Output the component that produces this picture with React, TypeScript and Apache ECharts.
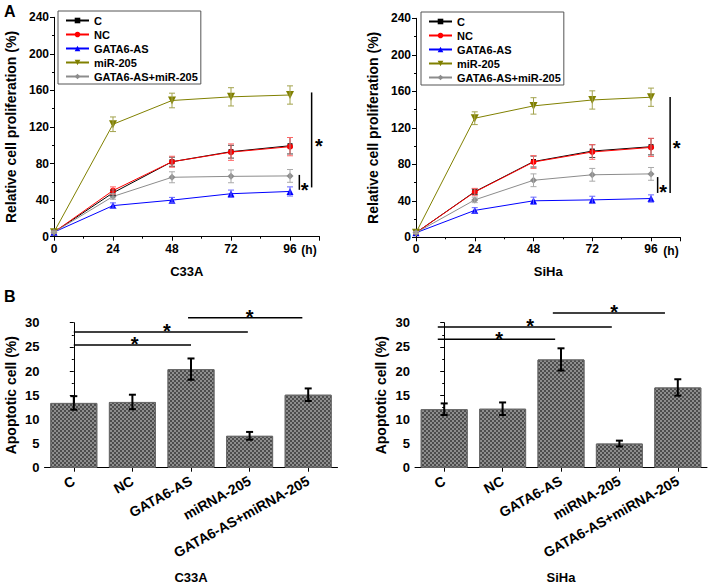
import React, { useEffect, useRef } from 'react';
import * as echarts from 'echarts';

// ---------- data ----------
const hours = [0, 24, 48, 72, 96];
const groupNames = ['C', 'NC', 'GATA6-AS', 'miR-205', 'GATA6-AS+miR-205'];
const groupColors = ['#000000', '#ff0000', '#0000ff', '#808000', '#8c8c8c'];
const errColors = ['#444444', '#ff6666', '#6666ff', '#a3a34d', '#aaaaaa'];

// C33A proliferation (%)
const c33aC = [5, 48, 82, 93, 99.5];
const c33aNC = [5, 50.5, 82, 92.5, 98.5];
const c33aGATA = [5, 34, 40, 47, 49.5];
const c33aMiR = [5, 123, 149, 153, 155];
const c33aCombo = [5, 44, 65, 66, 66.5];
const c33aErrC = [1, 3, 5, 7, 9];
const c33aErrNC = [1, 4, 6, 9, 10];
const c33aErrGATA = [1, 3, 3, 4, 5];
const c33aErrMiR = [1, 8, 8, 10, 10];
const c33aErrCombo = [1, 3, 6, 7, 7];

// SiHa proliferation (%)
const sihaC = [5, 50, 83, 94.5, 99.3];
const sihaNC = [5, 49.6, 82.5, 93.5, 98.5];
const sihaGATA = [5, 29.5, 40, 41, 42.5];
const sihaMiR = [5, 130.5, 144, 150.5, 153.5];
const sihaCombo = [5, 41, 62.5, 68.5, 69.5];
const sihaErrC = [1, 3, 6, 7, 9];
const sihaErrNC = [1, 4, 7, 8, 10];
const sihaErrGATA = [1, 3, 4, 4, 4];
const sihaErrMiR = [1, 7, 9, 10, 10];
const sihaErrCombo = [1, 3, 7, 7, 7];

// Apoptosis (%)
const barCats = ['C', 'NC', 'GATA6-AS', 'miRNA-205', 'GATA6-AS+miRNA-205'];
const c33aApop = [13.4, 13.6, 20.4, 6.6, 15.1];
const c33aApopErr = [1.4, 1.5, 2.2, 0.8, 1.3];
const sihaApop = [12.1, 12.2, 22.4, 5.0, 16.6];
const sihaApopErr = [1.2, 1.3, 2.3, 0.6, 1.7];

// significance markers [x1, y1, x2, y2] and stars [x, y]
const c33aLineSig = [[104.8, 157.8, 104.8, 53.9], [99.8, 67.6, 99.8, 51.3]];
const c33aLineStars = [[107.8, 105], [102, 56.7]];
const sihaLineSig = [[103.8, 153.8, 103.8, 48.6], [98.7, 66, 98.7, 48.6]];
const sihaLineStars = [[106.5, 102.7], [101, 54.5]];
// bar-panel positions use the category index as x
const c33aBarSig = [[0, 25.4, 2.0, 25.4], [0, 28.1, 2.97, 28.1], [1.95, 31.0, 3.9, 31.0]];
const c33aBarStars = [[1.04, 26.6], [1.59, 29.3], [3.0, 32.1]];
const sihaBarSig = [[-0.11, 26.6, 1.9, 26.6], [-0.11, 29.1, 2.87, 29.1], [1.86, 32.0, 3.78, 32.0]];
const sihaBarStars = [[0.94, 27.6], [1.47, 30.4], [2.91, 33.2]];

// ---------- helpers ----------
const FONT = 'Liberation Sans, Arial, Helvetica, sans-serif';
const txt = { fontFamily: FONT, fontWeight: 'bold' as const, color: '#000' };

const symbols = [
  { symbol: 'rect', size: 5 },
  { symbol: 'circle', size: 6 },
  { symbol: 'triangle', size: 7 },
  { symbol: 'path://M0,0 L10,0 L5,9 Z', size: 8 },
  { symbol: 'diamond', size: 7 },
];

function lineSeries(idx: number, values: number[], axis: number) {
  return {
    type: 'line',
    name: groupNames[idx],
    xAxisIndex: axis,
    yAxisIndex: axis,
    data: hours.map((h, i) => [h, values[i]]),
    symbol: symbols[idx].symbol,
    symbolSize: symbols[idx].size,
    showSymbol: true,
    lineStyle: { color: groupColors[idx], width: 1 },
    itemStyle: { color: groupColors[idx] },
    z: 3,
  };
}

function errSeries(xs: number[], values: number[], errs: number[], xAxis: number, yAxis: number, color: string, cap: number, width: number) {
  return {
    type: 'custom',
    name: 'err',
    xAxisIndex: xAxis,
    yAxisIndex: yAxis,
    data: xs.map((x, i) => [x, values[i] - errs[i], values[i] + errs[i]]),
    encode: { x: 0, y: [1, 2] },
    z: 4,
    renderItem: (params: any, api: any) => {
      const x = api.value(0);
      const top = api.coord([x, api.value(2)]);
      const bot = api.coord([x, api.value(1)]);
      const st = { stroke: color, lineWidth: width };
      return {
        type: 'group',
        children: [
          { type: 'line', shape: { x1: top[0], y1: top[1], x2: bot[0], y2: bot[1] }, style: st },
          { type: 'line', shape: { x1: top[0] - cap, y1: top[1], x2: top[0] + cap, y2: top[1] }, style: st },
          { type: 'line', shape: { x1: bot[0] - cap, y1: bot[1], x2: bot[0] + cap, y2: bot[1] }, style: st },
        ],
      };
    },
  };
}

function sigSeries(rows: number[][], xAxis: number, yAxis: number, width: number) {
  return {
    type: 'custom',
    name: 'sig',
    xAxisIndex: xAxis,
    yAxisIndex: yAxis,
    data: rows,
    encode: { x: [0, 2], y: [1, 3] },
    z: 5,
    renderItem: (params: any, api: any) => {
      const a = api.coord([api.value(0), api.value(1)]);
      const b = api.coord([api.value(2), api.value(3)]);
      return { type: 'line', shape: { x1: a[0], y1: a[1], x2: b[0], y2: b[1] }, style: { stroke: '#000', lineWidth: width } };
    },
  };
}

function starSeries(rows: number[][], xAxis: number, yAxis: number, size: number) {
  return {
    type: 'custom',
    name: 'star',
    xAxisIndex: xAxis,
    yAxisIndex: yAxis,
    data: rows,
    encode: { x: 0, y: 1 },
    z: 5,
    renderItem: (params: any, api: any) => {
      const p = api.coord([api.value(0), api.value(1)]);
      return {
        type: 'text',
        x: p[0],
        y: p[1] + size * 0.24,
        style: {
          text: '*', fontSize: size, fontWeight: 'bold', fontFamily: FONT, fill: '#000',
          align: 'center', verticalAlign: 'middle', textAlign: 'center', textVerticalAlign: 'middle',
        },
      };
    },
  };
}

function lineXAxis(grid: number, name: string) {
  return {
    type: 'value', gridIndex: grid, min: 0, max: 108, interval: 24,
    axisLine: { show: true, lineStyle: { color: '#000', width: 1 } },
    axisTick: { show: true, length: 4, lineStyle: { color: '#000' } },
    minorTick: { show: true, splitNumber: 2, length: 2, lineStyle: { color: '#000' } },
    splitLine: { show: false },
    axisLabel: { ...txt, fontSize: 12, margin: 6, formatter: (v: number) => (v > 96 ? '' : String(v)) },
    name, nameLocation: 'middle', nameGap: 28, nameTextStyle: { ...txt, fontSize: 13 },
  };
}

function lineYAxis(grid: number) {
  return {
    type: 'value', gridIndex: grid, min: 0, max: 240, interval: 40,
    axisLine: { show: true, lineStyle: { color: '#000', width: 1 } },
    axisTick: { show: true, length: 4, lineStyle: { color: '#000' } },
    minorTick: { show: true, splitNumber: 2, length: 2, lineStyle: { color: '#000' } },
    splitLine: { show: false },
    axisLabel: { ...txt, fontSize: 12, margin: 5 },
    name: 'Relative cell proliferation (%)', nameLocation: 'middle', nameGap: 36, nameRotate: 90,
    nameTextStyle: { ...txt, fontSize: 14 },
  };
}

function barXAxis(grid: number, name: string) {
  return {
    type: 'category', gridIndex: grid, data: barCats,
    axisLine: { show: true, lineStyle: { color: '#000', width: 1 } },
    axisTick: { show: true, alignWithLabel: true, length: 4, lineStyle: { color: '#000' } },
    axisLabel: { ...txt, fontSize: 14, rotate: 29, interval: 0, margin: 12 },
    name, nameLocation: 'middle', nameGap: 103, nameTextStyle: { ...txt, fontSize: 13 },
  };
}

// hidden linear axis over the same grid, so that marks can sit between categories
function barPosAxis(grid: number) {
  return { type: 'value', gridIndex: grid, min: -0.5, max: 4.5, show: false };
}

function barYAxis(grid: number) {
  return {
    type: 'value', gridIndex: grid, min: 0, max: 30, interval: 5,
    axisLine: { show: true, lineStyle: { color: '#000', width: 1 } },
    axisTick: { show: true, length: 4, lineStyle: { color: '#000' } },
    minorTick: { show: true, splitNumber: 2, length: 2, lineStyle: { color: '#000' } },
    splitLine: { show: false },
    axisLabel: { ...txt, fontSize: 13, margin: 5 },
    name: 'Apoptotic cell (%)', nameLocation: 'middle', nameGap: 27, nameRotate: 90,
    nameTextStyle: { ...txt, fontSize: 14 },
  };
}

const barDecal = {
  symbol: 'rect',
  symbolSize: 1,
  color: '#4d4d4d',
  dashArrayX: [[2, 2], [0, 2, 2, 0]],
  dashArrayY: [2, 0],
  rotation: 0,
};

function barSeries(values: number[], axis: number) {
  return {
    type: 'bar', name: 'apop', xAxisIndex: axis, yAxisIndex: axis, data: values, barWidth: 47,
    itemStyle: { color: '#8e8e8e', borderColor: '#6a6a6a', borderWidth: 1, decal: barDecal },
    z: 2,
  };
}

function legendAt(left: number, top: number) {
  return {
    data: groupNames, orient: 'vertical', left, top,
    itemWidth: 23, itemHeight: 7, itemGap: 3,
    padding: [4, 3, 2, 7],
    borderColor: '#555', borderWidth: 1, backgroundColor: '#fff',
    selectedMode: false,
    textStyle: { ...txt, fontSize: 11 },
  };
}

const c33aLines = [c33aC, c33aNC, c33aGATA, c33aMiR, c33aCombo];
const c33aErrs = [c33aErrC, c33aErrNC, c33aErrGATA, c33aErrMiR, c33aErrCombo];
const sihaLines = [sihaC, sihaNC, sihaGATA, sihaMiR, sihaCombo];
const sihaErrs = [sihaErrC, sihaErrNC, sihaErrGATA, sihaErrMiR, sihaErrCombo];

export default function App() {
  const ref = useRef<HTMLDivElement>(null);
  useEffect(() => {
    if (!ref.current) return;
    const chart = echarts.init(ref.current, undefined, { renderer: 'svg' });
    const series: any[] = [];
    [0, 1, 2, 3, 4].forEach((i) => {
      series.push(errSeries(hours, c33aLines[i], c33aErrs[i], 0, 0, errColors[i], 3, 1));
      series.push(errSeries(hours, sihaLines[i], sihaErrs[i], 1, 1, errColors[i], 3, 1));
    });
    [0, 1, 2, 3, 4].forEach((i) => {
      series.push(lineSeries(i, c33aLines[i], 0));
      series.push(lineSeries(i, sihaLines[i], 1));
    });
    series.push(sigSeries(c33aLineSig, 0, 0, 1.5));
    series.push(sigSeries(sihaLineSig, 1, 1, 1.5));
    series.push(starSeries(c33aLineStars, 0, 0, 20));
    series.push(starSeries(sihaLineStars, 1, 1, 20));
    series.push(barSeries(c33aApop, 2));
    series.push(barSeries(sihaApop, 3));
    const idx = [0, 1, 2, 3, 4];
    series.push(errSeries(idx, c33aApop, c33aApopErr, 4, 2, '#000', 3.5, 2));
    series.push(errSeries(idx, sihaApop, sihaApopErr, 5, 3, '#000', 3.5, 2));
    series.push(sigSeries(c33aBarSig, 4, 2, 1.5));
    series.push(sigSeries(sihaBarSig, 5, 3, 1.5));
    series.push(starSeries(c33aBarStars, 4, 2, 20));
    series.push(starSeries(sihaBarStars, 5, 3, 20));

    chart.setOption({
      animation: false,
      backgroundColor: '#fff',
      grid: [
        { left: 54, top: 17.3, width: 265.5, height: 219.4 },
        { left: 416, top: 18.3, width: 264.4, height: 219 },
        { left: 44.5, top: 322.7, width: 293, height: 145 },
        { left: 415, top: 322.7, width: 292, height: 145 },
      ],
      xAxis: [
        lineXAxis(0, 'C33A'), lineXAxis(1, 'SiHa'),
        barXAxis(2, 'C33A'), barXAxis(3, 'SiHa'),
        barPosAxis(2), barPosAxis(3),
      ],
      yAxis: [lineYAxis(0), lineYAxis(1), barYAxis(2), barYAxis(3)],
      legend: [legendAt(58, 11), legendAt(421, 12)],
      graphic: [
        { type: 'text', left: 4, top: 3, style: { text: 'A', font: `bold 16px ${FONT}`, fill: '#000' } },
        { type: 'text', left: 4, top: 288, style: { text: 'B', font: `bold 16px ${FONT}`, fill: '#000' } },
        { type: 'text', x: 309, y: 250, style: { text: '(h)', font: `bold 12px ${FONT}`, fill: '#000', align: 'center', verticalAlign: 'middle' } },
        { type: 'text', x: 671, y: 251, style: { text: '(h)', font: `bold 12px ${FONT}`, fill: '#000', align: 'center', verticalAlign: 'middle' } },
      ],
      series,
    });
    return () => chart.dispose();
  }, []);
  return <div ref={ref} style={{ position: 'fixed', left: 0, top: 0, width: 709, height: 586, background: '#fff' }} />;
}
